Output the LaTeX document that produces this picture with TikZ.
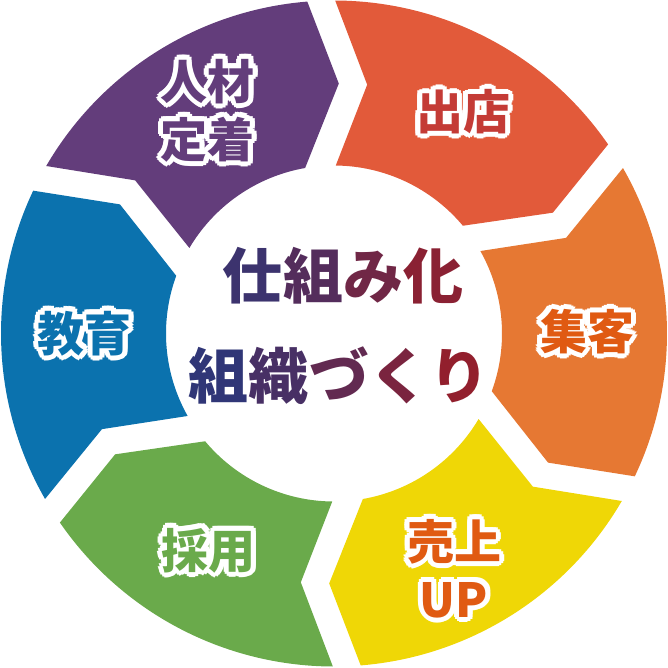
\documentclass[tikz,border=0pt]{standalone}
\usepackage{fontspec}
\usepackage{xcolor}
\newfontfamily\jp{Noto Sans CJK JP}[BoldFont={Noto Sans CJK JP Black}]
\definecolor{shutten}{RGB}{226,90,58}
\definecolor{shukyaku}{RGB}{230,120,51}
\definecolor{uriage}{RGB}{239,215,6}
\definecolor{saiyou}{RGB}{106,170,75}
\definecolor{kyouiku}{RGB}{11,114,174}
\definecolor{teichaku}{RGB}{99,61,123}
\definecolor{shuttentext}{RGB}{196,59,54}
\definecolor{orangetext}{RGB}{224,90,18}
\definecolor{gradnavy}{RGB}{38,56,126}
\definecolor{gradred}{RGB}{158,28,36}
\tikzstyle{segtext} = [font=\jp\bfseries\fontsize{47}{58}\selectfont, align=center, inner sep=0pt]
\tikzstyle{centertext} = [font=\jp\bfseries\fontsize{60}{72}\selectfont, inner sep=0pt]
% text with a white rim
\newcommand{\halo}[4]{%
	\foreach \h in {0,30,...,330}
		\node[segtext, text=white, shift={(\h:5pt)}] at (#2) {#4};
	\node[segtext, text=#3] (#1) at (#2) {#4};
}
\newcommand{\gc}[2]{\textcolor{gradred!#1!gradnavy}{#2}}

\begin{document}
\begin{tikzpicture}
	\useasboundingbox (-334pt,-333.5pt) rectangle (334pt,333.5pt);
	
	% ring segments
	\foreach \a/\col in {90/shutten, 30/shukyaku, -30/uriage, -90/saiyou, -150/kyouiku, 150/teichaku}
		\fill[\col] ({\a-0.2}:333pt) arc[start angle={\a-0.2}, end angle={\a-55.4}, radius=333pt]
			-- ({\a-61.1}:250pt) -- ({\a-50.1}:168pt)
			arc[start angle={\a-50.1}, end angle={\a-0.6}, radius=168pt]
			-- ({\a-7.6}:251pt) -- cycle;
	
	% labels
	\halo{shuttenlbl}{129pt,222pt}{shuttentext}{出店}
	\halo{shukyakulbl}{253pt,2pt}{orangetext}{集客}
	\halo{uriagelbl}{120pt,-235pt}{orangetext}{売上\\UP}
	\halo{saiyoulbl}{-125pt,-217pt}{saiyou}{採用}
	\halo{kyouikulbl}{-249pt,0pt}{kyouiku}{教育}
	\halo{teichakulbl}{-126pt,223pt}{teichaku}{人材\\定着}
	
	% centre
	\node[centertext] (title1) at (9pt,58pt) {\gc{18}{仕}\gc{38}{組}\gc{62}{み}\gc{83}{化}};
	\node[centertext] (title2) at (5pt,-42pt) {\gc{8}{組}\gc{28}{織}\gc{50}{づ}\gc{70}{く}\gc{90}{り}};
	
\end{tikzpicture}
\end{document}
